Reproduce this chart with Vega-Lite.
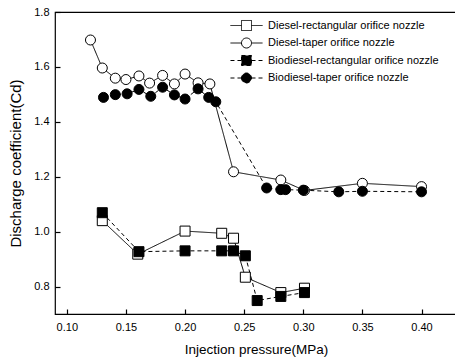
{
  "$schema": "https://vega.github.io/schema/vega-lite/v6.json",
  "autosize": "none",
  "padding": {"left": 55, "top": 12, "right": 0, "bottom": 45},
  "width": 402,
  "height": 302,
  "background": "white",
  "config": {
    "font": "Liberation Sans",
    "view": {"stroke": "black", "strokeWidth": 1.2},
    "axis": {"labelFont": "Liberation Sans", "titleFont": "Liberation Sans", "labelColor": "black", "titleColor": "black", "tickColor": "black", "grid": false, "titleFontWeight": "normal", "ticks": true, "tickWidth": 1.2, "tickOpacity": 1, "domain": false, "zindex": 1},
    "legend": {"title": null, "orient": "none", "legendX": 182, "legendY": 4, "symbolSize": 324, "labelFontSize": 11, "labelColor": "black", "labelOffset": 12, "rowPadding": 0.5, "symbolStrokeWidth": 1, "labelLimit": 300, "labelFont": "Liberation Sans", "symbolStrokeColor": "black"}
  },
  "data": {"values": [
    {"series": "Diesel-rectangular orifice nozzle", "x": 0.130, "y": 1.040},
    {"series": "Diesel-rectangular orifice nozzle", "x": 0.160, "y": 0.918},
    {"series": "Diesel-rectangular orifice nozzle", "x": 0.200, "y": 1.002},
    {"series": "Diesel-rectangular orifice nozzle", "x": 0.231, "y": 0.994},
    {"series": "Diesel-rectangular orifice nozzle", "x": 0.241, "y": 0.976},
    {"series": "Diesel-rectangular orifice nozzle", "x": 0.251, "y": 0.834},
    {"series": "Diesel-rectangular orifice nozzle", "x": 0.281, "y": 0.778},
    {"series": "Diesel-rectangular orifice nozzle", "x": 0.301, "y": 0.794},
    {"series": "Diesel-taper orifice nozzle", "x": 0.120, "y": 1.698},
    {"series": "Diesel-taper orifice nozzle", "x": 0.130, "y": 1.596},
    {"series": "Diesel-taper orifice nozzle", "x": 0.141, "y": 1.559},
    {"series": "Diesel-taper orifice nozzle", "x": 0.150, "y": 1.554},
    {"series": "Diesel-taper orifice nozzle", "x": 0.161, "y": 1.567},
    {"series": "Diesel-taper orifice nozzle", "x": 0.170, "y": 1.541},
    {"series": "Diesel-taper orifice nozzle", "x": 0.181, "y": 1.569},
    {"series": "Diesel-taper orifice nozzle", "x": 0.191, "y": 1.538},
    {"series": "Diesel-taper orifice nozzle", "x": 0.200, "y": 1.574},
    {"series": "Diesel-taper orifice nozzle", "x": 0.211, "y": 1.542},
    {"series": "Diesel-taper orifice nozzle", "x": 0.221, "y": 1.538},
    {"series": "Diesel-taper orifice nozzle", "x": 0.241, "y": 1.218},
    {"series": "Diesel-taper orifice nozzle", "x": 0.281, "y": 1.188},
    {"series": "Diesel-taper orifice nozzle", "x": 0.301, "y": 1.150},
    {"series": "Diesel-taper orifice nozzle", "x": 0.350, "y": 1.176},
    {"series": "Diesel-taper orifice nozzle", "x": 0.400, "y": 1.164},
    {"series": "Biodiesel-rectangular orifice nozzle", "x": 0.130, "y": 1.069},
    {"series": "Biodiesel-rectangular orifice nozzle", "x": 0.161, "y": 0.927},
    {"series": "Biodiesel-rectangular orifice nozzle", "x": 0.200, "y": 0.930},
    {"series": "Biodiesel-rectangular orifice nozzle", "x": 0.231, "y": 0.930},
    {"series": "Biodiesel-rectangular orifice nozzle", "x": 0.241, "y": 0.930},
    {"series": "Biodiesel-rectangular orifice nozzle", "x": 0.251, "y": 0.912},
    {"series": "Biodiesel-rectangular orifice nozzle", "x": 0.261, "y": 0.749},
    {"series": "Biodiesel-rectangular orifice nozzle", "x": 0.281, "y": 0.764},
    {"series": "Biodiesel-rectangular orifice nozzle", "x": 0.301, "y": 0.778},
    {"series": "Biodiesel-taper orifice nozzle", "x": 0.131, "y": 1.489},
    {"series": "Biodiesel-taper orifice nozzle", "x": 0.141, "y": 1.499},
    {"series": "Biodiesel-taper orifice nozzle", "x": 0.151, "y": 1.502},
    {"series": "Biodiesel-taper orifice nozzle", "x": 0.161, "y": 1.518},
    {"series": "Biodiesel-taper orifice nozzle", "x": 0.171, "y": 1.493},
    {"series": "Biodiesel-taper orifice nozzle", "x": 0.181, "y": 1.526},
    {"series": "Biodiesel-taper orifice nozzle", "x": 0.191, "y": 1.498},
    {"series": "Biodiesel-taper orifice nozzle", "x": 0.200, "y": 1.483},
    {"series": "Biodiesel-taper orifice nozzle", "x": 0.211, "y": 1.520},
    {"series": "Biodiesel-taper orifice nozzle", "x": 0.220, "y": 1.489},
    {"series": "Biodiesel-taper orifice nozzle", "x": 0.226, "y": 1.473},
    {"series": "Biodiesel-taper orifice nozzle", "x": 0.269, "y": 1.159},
    {"series": "Biodiesel-taper orifice nozzle", "x": 0.281, "y": 1.153},
    {"series": "Biodiesel-taper orifice nozzle", "x": 0.285, "y": 1.153},
    {"series": "Biodiesel-taper orifice nozzle", "x": 0.300, "y": 1.151},
    {"series": "Biodiesel-taper orifice nozzle", "x": 0.330, "y": 1.145},
    {"series": "Biodiesel-taper orifice nozzle", "x": 0.350, "y": 1.147},
    {"series": "Biodiesel-taper orifice nozzle", "x": 0.400, "y": 1.145}
  ]},
  "layer": [
    {
      "mark": {"type": "line", "strokeWidth": 1},
      "encoding": {
        "x": {"field": "x", "type": "quantitative", "scale": {"domain": [0.09, 0.43], "nice": false, "zero": false},
              "axis": {"orient": "bottom", "title": "Injection pressure(MPa)", "values": [0.10, 0.125, 0.15, 0.175, 0.20, 0.225, 0.25, 0.275, 0.30, 0.325, 0.35, 0.375, 0.40, 0.425],
                "labelExpr": "abs(datum.value*20 - round(datum.value*20)) < 0.01 ? format(datum.value, '.2f') : ''",
                "offset": -5, "tickSize": 5, "labelPadding": 7, "labelFontSize": 11, "titleFontSize": 13.5, "titlePadding": 10}},
        "y": {"field": "y", "type": "quantitative", "scale": {"domain": [0.7, 1.8], "nice": false, "zero": false},
              "axis": {"orient": "left", "title": "Discharge coefficient(Cd)", "values": [0.8, 0.9, 1.0, 1.1, 1.2, 1.3, 1.4, 1.5, 1.6, 1.7, 1.8],
                "labelExpr": "abs(datum.value*5 - round(datum.value*5)) < 0.01 ? format(datum.value, '.1f') : ''",
                "offset": -5, "tickSize": 5, "labelPadding": 6, "labelFontSize": 11, "titleFontSize": 15, "titlePadding": 10}},
        "color": {"field": "series", "type": "nominal",
          "scale": {"domain": ["Diesel-rectangular orifice nozzle", "Diesel-taper orifice nozzle", "Biodiesel-rectangular orifice nozzle", "Biodiesel-taper orifice nozzle"], "range": ["black", "black", "black", "black"]},
          "legend": {"encode": {"symbols": {"update": {
              "shape": {"signal": "indexof(datum.value, 'rectangular') >= 0 ? 'M-1.78,0H-0.556M0.556,0H1.78M-0.556,-0.556H0.556V0.556H-0.556Z' : 'M-1.78,0H-0.556M0.556,0H1.78M-0.556,0A0.556,0.556,0,1,0,0.556,0A0.556,0.556,0,1,0,-0.556,0Z'"},
              "fill": {"signal": "indexof(datum.value, 'Biodiesel') == 0 ? 'black' : 'white'"},
              "strokeDash": {"signal": "indexof(datum.value, 'Biodiesel') == 0 ? [4, 3] : [1, 0]"},
              "opacity": {"value": 1}}}}}},
        "strokeDash": {"field": "series", "type": "nominal", "legend": null,
          "scale": {"domain": ["Biodiesel-taper orifice nozzle", "Biodiesel-rectangular orifice nozzle", "Diesel-taper orifice nozzle", "Diesel-rectangular orifice nozzle"], "range": [[4, 3], [4, 3], [1, 0], [1, 0]]}}
      }
    },
    {
      "mark": {"type": "point", "filled": true, "stroke": "black", "strokeWidth": 1, "opacity": 1, "size": 100},
      "encoding": {
        "x": {"field": "x", "type": "quantitative"},
        "y": {"field": "y", "type": "quantitative"},
        "shape": {"field": "series", "type": "nominal", "legend": null,
          "scale": {"domain": ["Biodiesel-taper orifice nozzle", "Biodiesel-rectangular orifice nozzle", "Diesel-taper orifice nozzle", "Diesel-rectangular orifice nozzle"], "range": ["circle", "square", "circle", "square"]}},
        "fill": {"field": "series", "type": "nominal", "legend": null,
          "scale": {"domain": ["Biodiesel-taper orifice nozzle", "Biodiesel-rectangular orifice nozzle", "Diesel-taper orifice nozzle", "Diesel-rectangular orifice nozzle"], "range": ["black", "black", "white", "white"]}}
      }
    }
  ]
}
